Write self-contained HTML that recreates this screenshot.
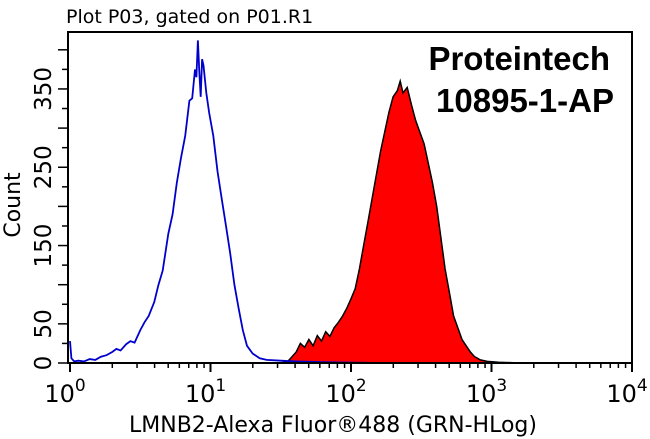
<!DOCTYPE html>
<html><head><meta charset="utf-8"><style>
html,body{margin:0;padding:0;background:#fff;}
svg{display:block;font-family:"DejaVu Sans","Liberation Sans",sans-serif;}
</style></head><body>
<svg id="chart" width="650" height="439" viewBox="0 0 650 439">
<text x="66" y="23" font-size="19" fill="#000">Plot P03, gated on P01.R1</text>
<g id="marks"></g>
<rect x="68" y="32" width="564" height="331" fill="none" stroke="#000" stroke-width="2"/>
<g id="axes"></g>
<text x="610" y="70" font-size="33" font-weight="bold" text-anchor="end" font-family="Liberation Sans, sans-serif">Proteintech</text>
<text x="614" y="112" font-size="33" font-weight="bold" text-anchor="end" font-family="Liberation Sans, sans-serif">10895-1-AP</text>
<text x="333" y="432" font-size="22" text-anchor="middle">LMNB2-Alexa Fluor®488 (GRN-HLog)</text>
<text transform="translate(20,205) rotate(-90)" font-size="22" text-anchor="middle">Count</text>
</svg>
<script>
const blueLog = [0,0.01,0.03,0.06,0.1,0.14,0.18,0.22,0.26,0.3,0.33,0.36,0.4,0.43,0.46,0.5,0.53,0.56,0.6,0.63,0.66,0.7,0.73,0.76,0.79,0.82,0.85,0.87,0.89,0.9,0.91,0.92,0.93,0.94,0.95,0.97,0.99,1.02,1.05,1.08,1.11,1.14,1.17,1.2,1.23,1.26,1.3,1.35,1.4,1.5,1.6,1.8,2.2,2.6,3.0,3.6,4.0];
const blueCount = [28,6,2,3,2,5,4,8,10,14,18,16,24,28,26,42,52,60,78,100,118,165,190,230,262,290,335,338,375,365,412,372,340,388,380,345,320,290,245,210,175,140,100,70,42,22,12,6,4,3,2,1,0,0,0,0,0];
const redLog = [1.5,1.55,1.58,1.61,1.64,1.67,1.7,1.73,1.76,1.79,1.82,1.85,1.88,1.91,1.94,1.97,2.0,2.03,2.06,2.09,2.12,2.15,2.18,2.21,2.24,2.27,2.3,2.33,2.35,2.37,2.4,2.43,2.46,2.49,2.52,2.55,2.58,2.61,2.64,2.67,2.7,2.73,2.76,2.79,2.82,2.85,2.88,2.92,2.97,3.05,3.2];
const redCount = [0,2,8,14,25,20,30,22,35,28,40,34,45,52,60,70,82,95,120,150,180,210,240,270,295,320,340,348,360,345,352,330,310,295,280,255,230,200,160,120,90,60,45,30,22,14,8,4,2,1,0];
const xTickLabels = ["0","1","2","3","4"];
const yTickLabels = ["0","50","150","250","350"];
const yLabelValues = [0,50,150,250,350];

const X0=70, DEC=140.5, Y0=363, K=0.783;
const xs = d => X0 + d*DEC;
const ys = c => Y0 - c*K;
const NS="http://www.w3.org/2000/svg";
const marks=document.getElementById('marks'), axes=document.getElementById('axes');
function mk(tag, attrs, parent){const e=document.createElementNS(NS,tag);for(const k in attrs)e.setAttribute(k,attrs[k]);parent.appendChild(e);return e;}

let rp = redLog.map((d,i)=>xs(d).toFixed(1)+','+ys(redCount[i]).toFixed(1)).join(' ');
const red = mk('polygon',{points: xs(redLog[0])+','+Y0+' '+rp+' '+xs(redLog[redLog.length-1])+','+Y0, fill:'#ff0000', stroke:'#000','stroke-width':1.5},marks);


const blue = mk('polyline',{points: blueLog.map((d,i)=>xs(d).toFixed(1)+','+ys(blueCount[i]).toFixed(1)).join(' '), fill:'none', stroke:'#0000cc','stroke-width':1.8},marks);



for(let dd=0; dd<4; dd++){ for(let m=2;m<=9;m++){ const x=xs(dd+Math.log10(m));
  const t=mk('line',{x1:x,y1:Y0,x2:x,y2:Y0+5,stroke:'#000','stroke-width':1.5},axes);
  
   } }
xTickLabels.forEach((p,i)=>{ const x=xs(i);
  const t=mk('line',{x1:x,y1:Y0,x2:x,y2:Y0+9,stroke:'#000','stroke-width':2},axes);
  
  
  const tx=mk('text',{x:x-5,y:402,'font-size':24,'text-anchor':'middle'},axes);
  tx.textContent='10';
  
  
  const sp=mk('tspan',{dy:-11,'font-size':17},tx); sp.textContent=p;
});
for(let c=0;c<=400;c+=25){ const y=ys(c); const major = c%50===0;
  const t=mk('line',{x1:68,y1:y,x2:major?58:62,y2:y,stroke:'#000','stroke-width':1.5},axes);
  
   }
yLabelValues.forEach((v,i)=>{ const y=ys(v);
  const tx=mk('text',{transform:`translate(51,${y}) rotate(-90)`,'font-size':23,'text-anchor':'middle'},axes);
  tx.textContent=yTickLabels[i];
  
  
});
</script>
</body></html>
